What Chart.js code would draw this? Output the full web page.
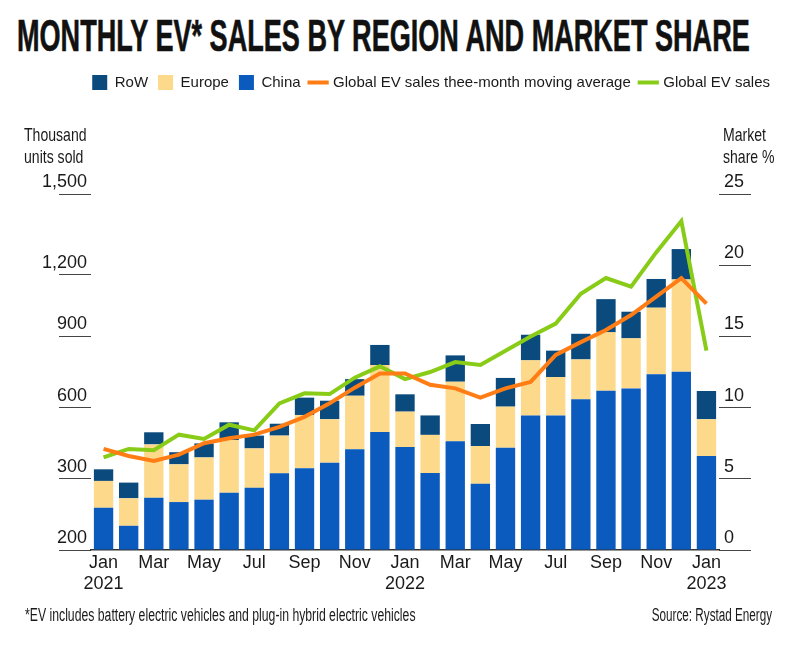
<!DOCTYPE html>
<html>
<head>
<meta charset="utf-8">
<script src="https://cdn.jsdelivr.net/npm/chart.js@4"></script>
<style>
  body { margin: 0; background: #fff; }
  #page { position: relative; width: 800px; height: 646px; overflow: hidden; font-family: 'Liberation Sans', Arial, sans-serif; color: #1a1a1a; }
  #title { position: absolute; left: 17px; top: 13px; font-size: 45px; line-height: 1; font-weight: bold; white-space: nowrap; transform-origin: 0 0; color: #111; -webkit-text-stroke: 0.6px #111; }
  #chart { position: absolute; left: 0; top: 0; }
  .note { position: absolute; font-size: 19px; line-height: 22px; white-space: nowrap; transform: scaleX(0.74); transform-origin: 0 0; }
  .foot { font-size: 18px; transform: scaleX(0.68); }
</style>
</head>
<body>
<div id="page">
  <div id="title">MONTHLY EV* SALES BY REGION AND MARKET SHARE</div>
  <canvas id="chart" width="800" height="646"></canvas>
  <div class="note" style="left:24px; top:124px;">Thousand<br>units sold</div>
  <div class="note" style="left:723px; top:124px;">Market<br>share %</div>
  <div class="note foot" style="left:25px; top:604px;">*EV includes battery electric vehicles and plug-in hybrid electric vehicles</div>
  <div class="note foot" style="right:28px; top:604px; transform: scaleX(0.65); transform-origin: 100% 0;">Source: Rystad Energy</div>
</div>
<script>
// months Jan 2021 - Jan 2023
const months = [['Jan','2021'],'Feb','Mar','Apr','May','Jun','Jul','Aug','Sep','Oct','Nov','Dec',
  ['Jan','2022'],'Feb','Mar','Apr','May','Jun','Jul','Aug','Sep','Oct','Nov','Dec',
  ['Jan','2023']];

// thousand units sold
const china  = [178,102,220,202,212,241,262,323,344,368,425,497, 434,324,458,279,431,567,567,635,671,681,741,751, 396];
const europe = [113,116,225,159,178,222,166,159,225,183,225,282, 149,161,251,159,173,232,162,168,246,211,280,389, 155];
const row    = [ 49, 66, 51, 51, 59, 75, 54, 50, 73, 78, 70, 85,  73, 82,111, 93,121,108,111,108,140,112,121,128, 119];

// market share %
const movingAvg = [7.1,6.6,6.25,6.7,7.5,7.85,8.1,8.65,9.35,10.3,11.4,12.4, 12.4,11.6,11.35,10.7,11.35,11.8,13.7,14.6,15.45,16.5,17.8,19.1, 17.3];
const globalShare = [6.5,7.1,7.0,8.1,7.8,8.8,8.4,10.3,11.0,10.95,12.1,12.9, 12.0,12.5,13.2,13.0,14.0,15.0,15.9,18.0,19.1,18.5,20.9,23.1, 14.0];

// left axis as printed
const leftTickValues = [0, 300, 600, 900, 1160, 1500];
const leftTickLabels = ['200', '300', '600', '900', '1,200', '1,500'];

// legend order: RoW, Europe, China, moving average, global
const legendRank = [2, 1, 0, 3, 4];

const title = document.getElementById('title');
title.style.transform = 'scaleX(' + (733 / title.scrollWidth) + ')';

Chart.defaults.font.family = "'Liberation Sans', Arial, sans-serif";
Chart.defaults.color = '#1a1a1a';

new Chart(document.getElementById('chart'), {
  type: 'bar',
  data: {
    labels: months,
    datasets: [
      { label: 'China', data: china, backgroundColor: '#0a5bbd', yAxisID: 'y', order: 1, pointStyle: 'rect' },
      { label: 'Europe', data: europe, backgroundColor: '#fcd98b', yAxisID: 'y', order: 1, pointStyle: 'rect' },
      { label: 'RoW', data: row, backgroundColor: '#0b4a7c', yAxisID: 'y', order: 1, pointStyle: 'rect' },
      { type: 'line', label: 'Global EV sales thee-month moving average', data: movingAvg, yAxisID: 'y2',
        borderColor: '#ff7d14', backgroundColor: '#ff7d14', borderWidth: 4, pointRadius: 0, tension: 0, order: 0, pointStyle: 'line' },
      { type: 'line', label: 'Global EV sales', data: globalShare, yAxisID: 'y2',
        borderColor: '#88cc18', backgroundColor: '#88cc18', borderWidth: 4, pointRadius: 0, tension: 0, order: 0, pointStyle: 'line' }
    ]
  },
  options: {
    responsive: false,
    animation: false,
    layout: { padding: { top: 65, right: 20, left: 0, bottom: 0 } },
    datasets: { bar: { barPercentage: 0.77, categoryPercentage: 1 } },
    plugins: {
      title: { display: false },
      legend: {
        align: 'end',
        labels: {
          usePointStyle: true,
          boxWidth: 18,
          boxHeight: 18,
          padding: 10,
          font: { size: 15 },
          color: '#1a1a1a',
          sort: (a, b) => legendRank[a.datasetIndex] - legendRank[b.datasetIndex]
        }
      },
      // empty box to leave room for the axis titles
      subtitle: { display: true, text: '', weight: 500, font: { size: 10 }, padding: { top: 0, bottom: 82 } },
      tooltip: { enabled: false }
    },
    scales: {
      x: {
        stacked: true,
        grid: { display: false, drawTicks: false },
        border: { display: true, color: '#333', width: 1.5 },
        ticks: {
          autoSkip: false,
          maxRotation: 0,
          padding: 3,
          font: { size: 18, lineHeight: 1.15 },
          color: '#1a1a1a',
          callback: function (value, index) { return index % 2 === 0 ? this.getLabelForValue(value) : ''; }
        },
        afterFit: (scale) => { scale.height = 96; }
      },
      y: {
        stacked: true,
        position: 'left',
        min: 0,
        max: 1500,
        afterBuildTicks: (scale) => { scale.ticks = leftTickValues.map(v => ({ value: v })); },
        grid: { drawOnChartArea: false, drawTicks: true, tickLength: 32, color: '#444', lineWidth: 1 },
        border: { display: false },
        ticks: {
          padding: -28,
          labelOffset: -12,
          font: { size: 18 },
          color: '#1a1a1a',
          callback: (value, index) => leftTickLabels[index]
        },
        afterFit: (scale) => { scale.width = 91; }
      },
      y2: {
        position: 'right',
        min: 0,
        max: 25,
        grid: { drawOnChartArea: false, drawTicks: true, tickLength: 32, color: '#444', lineWidth: 1 },
        border: { display: false },
        ticks: {
          stepSize: 5,
          padding: -27,
          labelOffset: -12,
          font: { size: 18 },
          color: '#1a1a1a'
        },
        afterFit: (scale) => { scale.width = 61; }
      }
    }
  }
});
</script>
</body>
</html>
